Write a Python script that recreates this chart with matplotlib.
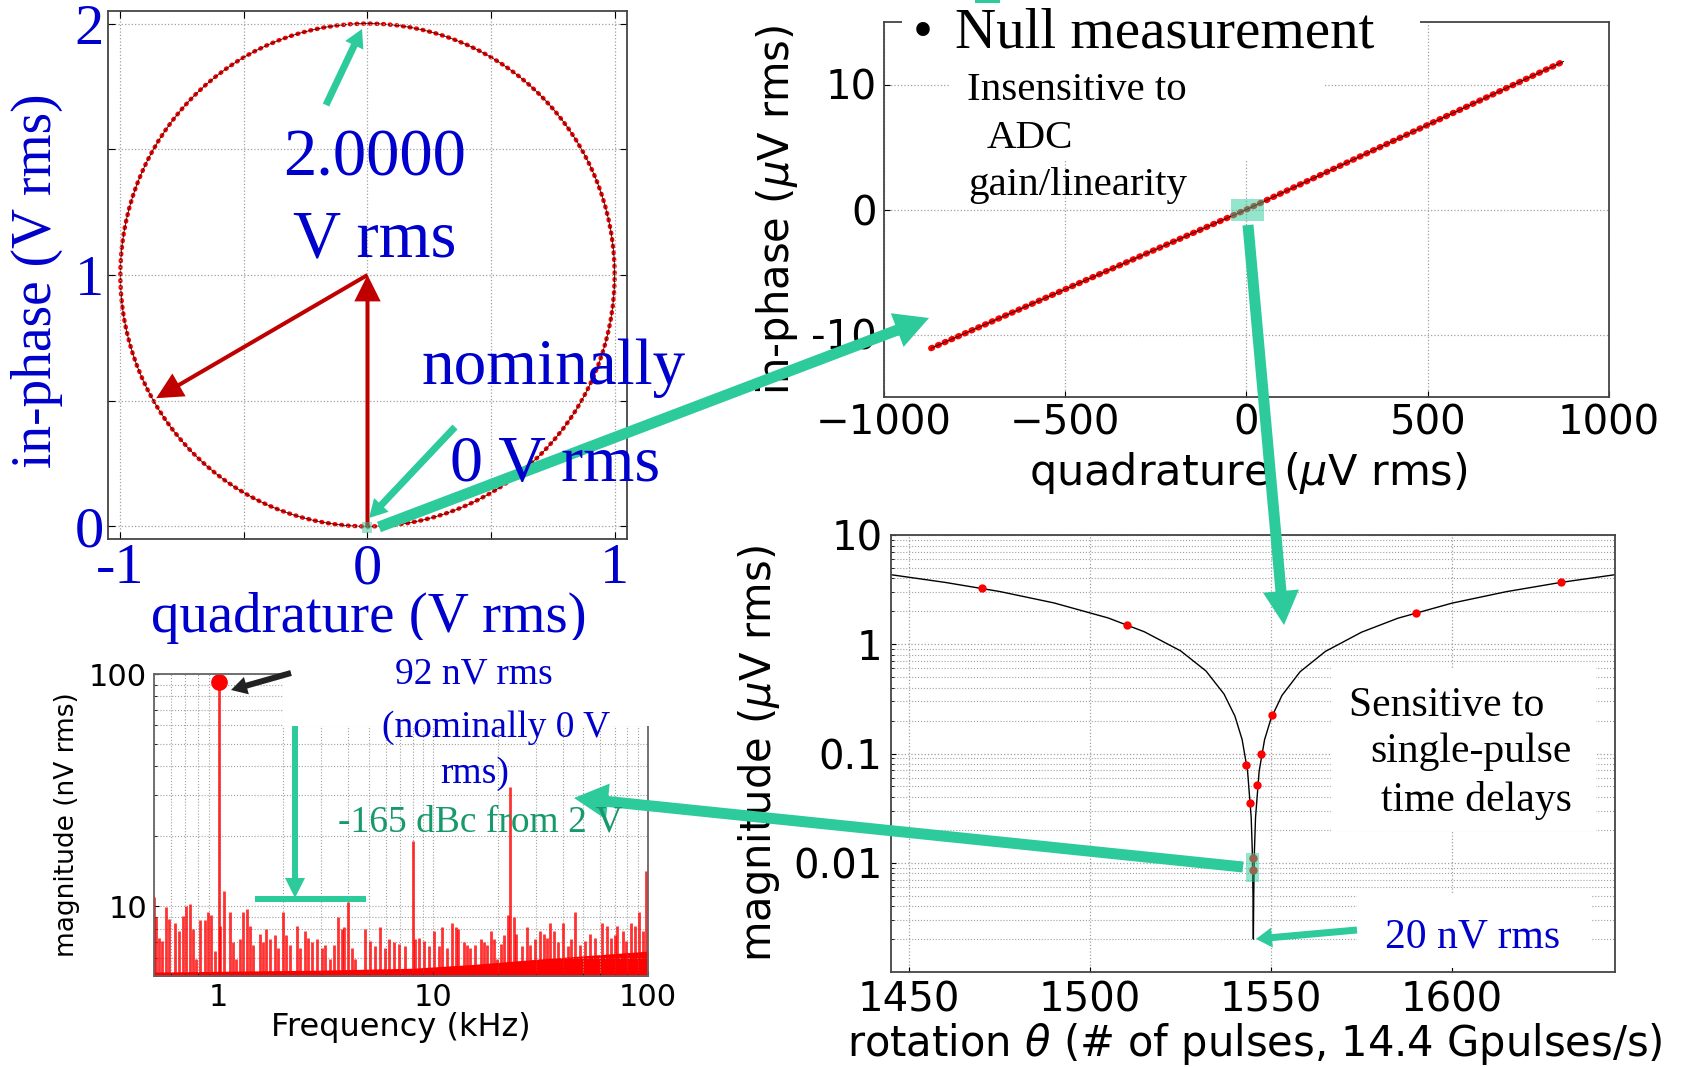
import matplotlib
matplotlib.use("Agg")
import matplotlib.pyplot as plt
from matplotlib.patches import FancyArrowPatch, Rectangle, Circle
from matplotlib.ticker import NullFormatter

# ---- data ----
# top left: phasor diagram (V rms)
circle_center = (0.0, 1.0)
circle_radius = 1.0
phasor_start = [(0.0, 0.0), (0.0, 1.0)]
phasor_end = [(0.0, 1.0), (-0.855, 0.51)]

# top right: null measurement (uV rms)
quad_uv = [-870, 0, 875]
inphase_uv = [-11.1, 0, 11.85]

# bottom right: magnitude vs rotation (uV rms)
theta_fit = [1445, 1460, 1475, 1490, 1505, 1515, 1525, 1532, 1537, 1540, 1542, 1543.5,
             1544.5, 1544.8, 1545.0, 1545.1, 1545.2, 1545.4, 1545.7, 1546.7, 1548.2, 1550,
             1553, 1558, 1565, 1575, 1585, 1600, 1615, 1630, 1645]
mag_fit = [4.33, 3.68, 3.04, 2.39, 1.74, 1.30, 0.87, 0.57, 0.35, 0.22, 0.134, 0.069,
           0.026, 0.013, 0.005, 0.002, 0.005, 0.013, 0.026, 0.069, 0.134, 0.21,
           0.34, 0.56, 0.86, 1.29, 1.73, 2.38, 3.03, 3.68, 4.33]
theta_pts = [1470.2, 1510.2, 1543.1, 1544.2, 1545.1, 1545.1, 1546.1, 1547.2, 1550.3, 1590.1, 1630.2]
mag_pts = [3.25, 1.51, 0.078, 0.035, 0.011, 0.0085, 0.052, 0.098, 0.224, 1.95, 3.70]

# bottom left: spectrum (kHz, nV rms)
spec_khz = [0.50, 0.511, 0.530, 0.546, 0.569, 0.590, 0.623, 0.657, 0.681, 0.701, 0.737, 0.759,
            0.786, 0.821, 0.860, 0.892, 0.924, 0.958, 1.0, 1.018, 1.055, 1.126, 1.167, 1.21,
            1.254, 1.299, 1.356, 1.396, 1.447, 1.554, 1.611, 1.670, 1.731, 1.827, 1.894, 2.0,
            2.07, 2.15, 2.31, 2.39, 2.52, 2.62, 2.71, 2.86, 3.02, 3.13, 3.30, 3.46, 3.59, 3.74,
            3.85, 3.99, 4.17, 4.32, 4.81, 5.08, 5.36, 5.65, 5.97, 6.23, 6.53, 6.94, 7.40, 8.04,
            8.24, 8.54, 9.01, 9.51, 10.04, 10.6, 11.0, 11.6, 12.2, 12.7, 13.1, 13.9, 14.4, 14.9,
            15.7, 16.6, 17.2, 17.8, 18.6, 19.2, 19.9, 20.7, 21.4, 22.2, 22.8, 23.7, 24.4, 25.8,
            27.2, 28.2, 29.8, 31.5, 32.7, 34.0, 35.0, 36.5, 37.9, 40.0, 42.3, 43.9, 45.5, 48.1,
            50.8, 53.7, 56.7, 61.1, 64.5, 67.0, 70.0, 72.0, 76.1, 78.9, 83.5, 86.6, 90.5, 94.9,
            98.0, 99.5]
spec_nv = [11.0, 8.95, 7.3, 7.1, 9.9, 8.8, 8.5, 7.8, 9.1, 10.0, 10.2, 8.0,
           5.9, 8.7, 8.7, 9.4, 9.2, 6.4, 92.0, 8.2, 11.6, 9.4, 7.0, 5.9,
           7.2, 9.4, 9.7, 8.2, 6.8, 7.6, 7.0, 8.0, 7.2, 7.5, 6.6, 9.4,
           7.5, 6.8, 8.2, 6.6, 7.8, 7.3, 7.0, 7.2, 6.6, 6.8, 5.9, 6.8, 9.0, 8.0,
           8.1, 10.4, 6.6, 5.9, 8.0, 7.1, 6.7, 8.1, 6.6, 7.2, 7.0, 6.9, 6.7, 19.0,
           7.2, 7.3, 7.1, 6.7, 7.8, 6.7, 8.1, 6.6, 8.5, 8.1, 8.0, 7.0, 6.8, 6.6,
           6.8, 7.2, 7.0, 6.8, 7.8, 7.2, 5.9, 6.9, 7.5, 9.2, 32.6, 9.0, 7.6, 6.7,
           8.1, 6.8, 7.2, 7.8, 7.6, 7.3, 8.5, 7.8, 7.0, 8.5, 6.7, 7.2, 9.4, 6.8,
           7.1, 7.6, 7.3, 8.5, 8.2, 7.3, 7.5, 8.2, 7.8, 7.1, 8.5, 8.2, 9.4, 7.8,
           14.1, 8.2]
floor_khz = [0.5, 3, 8, 15, 30, 100]
floor_nv = [5.2, 5.3, 5.4, 5.6, 5.9, 6.4]
peak_khz = [1.0]
peak_nv = [92.0]

# ---- style ----
BLUE = '#0000CC'
GREEN = '#2DCA9B'
GREEN_TXT = '#17996B'
RED = '#FF0000'
DARKRED = '#C00000'
GRID = '#A0A0A0'
SERIF = 'Liberation Serif'

W, H = 1690, 1067
fig = plt.figure(figsize=(W / 100, H / 100), dpi=100)


def fx(px):
    return px / W


def fy(py):
    return 1 - py / H


def ax_at(l, t, r, b):
    return fig.add_axes([fx(l), fy(b), (r - l) / W, (b - t) / H])


def arrow_px(x0, y0, x1, y1, tail, hw, hl, color=GREEN, z=4):
    # sizes given in pixels, arrowstyle wants points
    st = f"simple,tail_width={tail*0.72},head_width={hw*0.72},head_length={hl*0.72}"
    fig.add_artist(FancyArrowPatch((fx(x0), fy(y0)), (fx(x1), fy(y1)), transform=fig.transFigure,
                                   arrowstyle=st, color=color, lw=0, shrinkA=0, shrinkB=0, zorder=z))


def box_px(x0, y0, x1, y1, color='white', alpha=1.0, z=2):
    fig.add_artist(Rectangle((fx(x0), fy(y1)), (x1 - x0) / W, (y1 - y0) / H, transform=fig.transFigure,
                             fc=color, ec='none', alpha=alpha, zorder=z))


def text_px(x, y, s, size, color='black', ha='left', family=SERIF):
    fig.text(fx(x), fy(y), s, fontsize=size, color=color, ha=ha, va='baseline', family=family, zorder=5)


def frame(ax, c='#444444'):
    for sp in ax.spines.values():
        sp.set_color(c)
        sp.set_linewidth(1.3)


# ---- top left: phasor circle ----
ax1 = ax_at(108, 11, 627, 539)
ring = Circle(circle_center, circle_radius, fill=False, ec=RED, lw=3.2, ls=(0, (0.2, 1.3)))
ring.set_capstyle('round')
ax1.add_patch(ring)
ax1.add_patch(Circle(circle_center, circle_radius, fill=False, ec='black', lw=0.5))
for p0, p1 in zip(phasor_start, phasor_end):
    ax1.add_patch(FancyArrowPatch(p0, p1, arrowstyle="simple,tail_width=2.9,head_width=19,head_length=19",
                                  color=DARKRED, lw=0, shrinkA=0, shrinkB=0, zorder=3))
ax1.set_xlim(-1.05, 1.05)
ax1.set_ylim(-0.05, 2.05)
ax1.set_xticks([-1, -0.5, 0, 0.5, 1], ['-1', '', '0', '', '1'])
ax1.set_yticks([0, 0.5, 1, 1.5, 2], ['0', '', '1', '', '2'])
ax1.tick_params(direction='in', length=5, top=True, right=True, labelsize=42, labelcolor=BLUE)
ax1.tick_params(axis='x', pad=3)
ax1.tick_params(axis='y', pad=3)
for lab in ax1.get_xticklabels() + ax1.get_yticklabels():
    lab.set_family(SERIF)
ax1.grid(True, ls=':', color=GRID, lw=0.9)
ax1.set_xlabel('quadrature (V rms)', fontsize=41, color=BLUE, family=SERIF)
ax1.set_ylabel('in-phase (V rms)', fontsize=40, color=BLUE, family=SERIF)
ax1.xaxis.set_label_coords(0.503, -0.1)
ax1.yaxis.set_label_coords(-0.087, 0.49)
frame(ax1)

# ---- top right: null measurement ----
ax2 = ax_at(884, 22, 1609, 397)
ax2.plot(quad_uv, inphase_uv, color=RED, lw=4.4, ls=(0, (0.2, 1.0)), dash_capstyle='round')
ax2.plot(quad_uv, inphase_uv, color='black', lw=0.6)
ax2.set_xlim(-1000, 1000)
ax2.set_ylim(-15, 15)
ax2.set_xticks([-1000, -500, 0, 500, 1000], ['\u22121000', '\u2212500', '0', '500', '1000'])
ax2.set_yticks([-10, 0, 10], ['-10', '0', '10'])
ax2.tick_params(direction='in', length=4, labelsize=29)
ax2.tick_params(axis='x', pad=5)
ax2.tick_params(axis='y', pad=5)
ax2.grid(True, ls=':', color=GRID, lw=0.9)
ax2.set_xlabel('quadrature ($\\mu$V rms)', fontsize=31)
ax2.set_ylabel('in-phase ($\\mu$V rms)', fontsize=30)
ax2.xaxis.set_label_coords(0.502, -0.14)
ax2.yaxis.set_label_coords(-0.116, 0.5)
frame(ax2)

# ---- bottom left: spectrum ----
ax3 = ax_at(154, 674, 648, 976)
ax3.set_xscale('log')
ax3.set_yscale('log')
ax3.fill_between(floor_khz, 1, floor_nv, color=RED, lw=0)
ax3.vlines(spec_khz, 1, spec_nv, color=RED, lw=2.0, alpha=0.8)
ax3.plot(peak_khz, peak_nv, 'o', ms=11, color=RED)
ax3.set_xlim(0.5, 100)
ax3.set_ylim(5, 100)
ax3.set_xticks([1, 10, 100], ['1', '10', '100'])
ax3.set_yticks([10, 100], ['10', '100'])
ax3.xaxis.set_minor_formatter(NullFormatter())
ax3.yaxis.set_minor_formatter(NullFormatter())
ax3.tick_params(which='both', direction='in', labelsize=22, pad=5)
ax3.tick_params(which='minor', length=2)
ax3.grid(True, which='both', ls=':', color=GRID, lw=0.8)
ax3.set_xlabel('Frequency (kHz)', fontsize=23)
ax3.set_ylabel('magnitude (nV rms)', fontsize=19)
ax3.xaxis.set_label_coords(0.5, -0.12)
ax3.yaxis.set_label_coords(-0.15, 0.5)
frame(ax3, '#666666')

# ---- bottom right: magnitude vs rotation ----
ax4 = ax_at(891, 535, 1615, 972)
ax4.set_yscale('log')
ax4.plot(theta_fit, mag_fit, color='black', lw=1.0)
ax4.plot(theta_pts, mag_pts, 'o', ms=6, color=RED, mec='none')
ax4.set_xlim(1445, 1645)
ax4.set_ylim(0.001, 10)
ax4.set_xticks([1450, 1500, 1550, 1600])
ax4.set_yticks([0.01, 0.1, 1, 10], ['0.01', '0.1', '1', '10'])
ax4.yaxis.set_minor_formatter(NullFormatter())
ax4.tick_params(which='both', direction='in', labelsize=29)
ax4.tick_params(axis='x', pad=6)
ax4.tick_params(axis='y', pad=6)
ax4.tick_params(which='minor', length=2)
ax4.grid(True, which='major', ls=':', color=GRID, lw=0.9)
ax4.yaxis.grid(True, which='minor', ls=':', color=GRID, lw=0.8)
ax4.set_xlabel('rotation $\\theta$ (# of pulses, 14.4 Gpulses/s)', fontsize=30)
ax4.set_ylabel('magnitude ($\\mu$V rms)', fontsize=30)
ax4.xaxis.set_label_coords(0.502, -0.112)
ax4.yaxis.set_label_coords(-0.151, 0.5)
frame(ax4)

# ---- white text backgrounds ----
box_px(902, 0, 1420, 30)
box_px(949, 30, 1325, 160)
box_px(1331, 668, 1596, 831)
box_px(1357, 895, 1592, 968)
box_px(283, 640, 660, 726)

# ---- highlight squares ----
box_px(1231, 199, 1264, 221, GREEN, 0.5, 3)
box_px(1246, 853, 1259, 882, GREEN, 0.5, 3)
box_px(362, 522, 372, 533, GREEN, 0.5, 3)
box_px(975, 0, 1000, 3, GREEN, 1.0, 3)
box_px(255, 896, 366, 902, GREEN, 1.0, 4)

# ---- arrows ----
arrow_px(326, 105, 362, 29, 7, 20, 18)
arrow_px(455, 427, 369, 518, 7, 20, 18)
arrow_px(379, 527, 929, 318, 11, 36, 34)
arrow_px(1248, 225, 1284, 625, 11, 36, 34)
arrow_px(1243, 867, 574, 798, 11, 36, 34)
arrow_px(1357, 930, 1256, 939, 7, 20, 16)
arrow_px(295, 726, 295, 898, 6, 20, 20)
arrow_px(291, 673, 231, 690, 6, 18, 16, color='#222222')

# ---- annotation text ----
text_px(375, 175, '2.0000', 48, BLUE, ha='center')
text_px(375, 257, 'V rms', 48, BLUE, ha='center')
text_px(422, 384, 'nominally', 47, BLUE)
text_px(450, 481, '0 V rms', 47.5, BLUE)
text_px(913, 48, '\u2022', 41)
text_px(955, 48, 'Null measurement', 41)
text_px(967, 100, 'Insensitive to', 29.5)
text_px(987, 148, 'ADC', 29.5)
text_px(968, 195, 'gain/linearity', 29.5)
text_px(1349, 716, 'Sensitive to', 30)
text_px(1370, 762, 'single-pulse', 30)
text_px(1381, 811, 'time delays', 30)
text_px(1385, 948, '20 nV rms', 30, BLUE)
text_px(395, 684, '92 nV rms', 27, BLUE)
text_px(382, 737, '(nominally 0 V', 27, BLUE)
text_px(440, 783, 'rms)', 27, BLUE)
text_px(338, 832, '-165 dBc from 2 V', 27, GREEN_TXT)

fig.savefig('out.png', dpi=100)
